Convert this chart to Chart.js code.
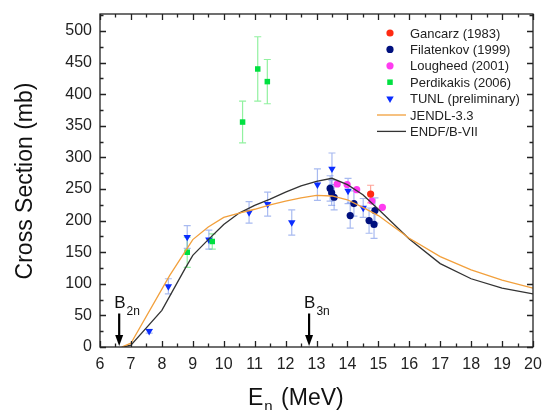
<!DOCTYPE html>
<html>
<head>
<meta charset="utf-8">
<script src="https://cdn.jsdelivr.net/npm/chart.js@4.4.1/dist/chart.umd.min.js"></script>
<style>
  html, body { margin: 0; padding: 0; background: #fff; }
  #wrap { width: 542px; height: 410px; }
</style>
</head>
<body>
<div id="wrap"><canvas id="xsChart" width="542" height="410"></canvas></div>
<script>
// axis ticks
const xTicks = [6, 7, 8, 9, 10, 11, 12, 13, 14, 15, 16, 17, 18, 19, 20]
const yTicks = [0, 50, 100, 150, 200, 250, 300, 350, 400, 450, 500]

// measured data (E in MeV, cross section in mb)
const gancarzE = [14.75]
const gancarzXS = [242]
const gancarzErr = [14]

const filatenkovE = [13.44, 13.49, 13.57, 14.09, 14.21, 14.70, 14.86, 14.89]
const filatenkovXS = [251, 244, 237, 208, 227, 200, 194, 216]
const filatenkovErr = [20, 20, 20, 20, 20, 20, 22, 20]

const lougheedE = [13.67, 13.99, 14.30, 14.79, 15.13]
const lougheedXS = [258, 257, 249, 231, 221]

const perdikakisE = [8.82, 9.63, 10.61, 11.10, 11.41]
const perdikakisXS = [150, 167, 356, 440, 420]
const perdikakisErr = [24, 12, 33, 51, 35]

const tunlE = [7.59, 8.21, 8.82, 9.52, 10.82, 11.42, 12.20, 13.03, 13.50, 14.02, 14.51]
const tunlXS = [25, 96, 174, 170, 213, 226, 197, 257, 282, 247, 220]
const tunlErr = [3, 12, 18, 15, 17, 19, 20, 25, 25, 20, 15]

// evaluations
const jendlE = [6.70, 7.00, 8.25, 9.00, 9.50, 10.0, 10.5, 11.0, 11.5, 12.0, 12.5, 13.0, 13.5, 14.0, 14.5, 15.0, 16.0, 17.0, 18.0, 19.0, 20.0]
const jendlXS = [0, 6, 113, 170, 190, 205, 212, 218, 225, 231, 236, 240, 239, 233, 221, 208, 172, 143, 122, 106, 93]

const endfE = [6.75, 7.00, 8.00, 8.75, 9.00, 9.50, 10.0, 10.5, 11.0, 11.5, 12.0, 12.5, 13.0, 13.5, 14.0, 14.5, 15.0, 16.0, 17.0, 18.0, 19.0, 20.0]
const endfXS = [0, 3, 58, 124, 145, 170, 194, 212, 224, 234, 245, 255, 262, 267, 257, 241, 218, 171, 132, 108, 93, 84]

// thresholds
const thresholdE = [6.62, 12.76]
const thresholdSub = ['2n', '3n']
const arrowTopXS = 53

const FONT = "'Liberation Sans', Arial, sans-serif"
Chart.defaults.font.family = FONT
Chart.defaults.color = '#222'

const pts = (xs, ys) => xs.map((v, i) => ({ x: v, y: ys[i] }))

const errorBars = {
  id: 'errorBars',
  beforeDatasetsDraw (chart) {
    const { ctx, scales: { x, y } } = chart
    ctx.save()
    ctx.lineWidth = 1.2
    chart.data.datasets.forEach((ds) => {
      if (!ds.errors) return
      ctx.strokeStyle = ds.errorColor
      ds.data.forEach((p, i) => {
        const err = ds.errors[i]
        const px = x.getPixelForValue(p.x)
        const y1 = y.getPixelForValue(p.y + err)
        const y2 = y.getPixelForValue(p.y - err)
        ctx.beginPath()
        ctx.moveTo(px, y1); ctx.lineTo(px, y2)
        ctx.moveTo(px - 3.5, y1); ctx.lineTo(px + 3.5, y1)
        ctx.moveTo(px - 3.5, y2); ctx.lineTo(px + 3.5, y2)
        ctx.stroke()
      })
    })
    ctx.restore()
  }
}

const frameAndTicks = {
  id: 'frameAndTicks',
  afterDraw (chart) {
    const { ctx, chartArea: a, scales: { x, y } } = chart
    ctx.save()
    ctx.strokeStyle = '#222'
    ctx.lineWidth = 1.3
    ctx.strokeRect(a.left, a.top, a.right - a.left, a.bottom - a.top)
    ctx.beginPath()
    for (let v = xTicks[0]; v <= xTicks[xTicks.length - 1] + 1e-9; v += 0.5) {
      const px = Math.round(x.getPixelForValue(v)) + 0.5
      const len = Number.isInteger(v) ? 6 : 3.5
      ctx.moveTo(px, a.bottom); ctx.lineTo(px, a.bottom - len)
      ctx.moveTo(px, a.top); ctx.lineTo(px, a.top + len)
    }
    for (let v = yTicks[0]; v <= y.max; v += 25) {
      const py = Math.round(y.getPixelForValue(v)) + 0.5
      const len = v % 50 === 0 ? 6 : 3.5
      ctx.moveTo(a.left, py); ctx.lineTo(a.left + len, py)
      ctx.moveTo(a.right, py); ctx.lineTo(a.right - len, py)
    }
    ctx.stroke()

    // axis titles
    ctx.fillStyle = '#111'
    ctx.font = '23px ' + FONT
    ctx.textBaseline = 'alphabetic'
    ctx.textAlign = 'left'
    let tx = 248
    ctx.fillText('E', tx, 405)
    tx += ctx.measureText('E').width + 1
    ctx.font = '15px ' + FONT
    ctx.fillText('n', tx, 411)
    tx += ctx.measureText('n').width + 2
    ctx.font = '23px ' + FONT
    ctx.fillText(' (MeV)', tx, 405)

    ctx.translate(26, 181)
    ctx.rotate(-Math.PI / 2)
    ctx.textAlign = 'center'
    ctx.textBaseline = 'middle'
    ctx.fillText('Cross Section (mb)', 0, 0)
    ctx.restore()
  }
}

const thresholdArrows = {
  id: 'thresholdArrows',
  afterDatasetsDraw (chart) {
    const { ctx, scales: { x, y } } = chart
    ctx.save()
    thresholdE.forEach((e, i) => {
      const px = x.getPixelForValue(e)
      const top = y.getPixelForValue(arrowTopXS)
      const tip = y.getPixelForValue(0) - 1
      ctx.strokeStyle = '#000'
      ctx.fillStyle = '#000'
      ctx.lineWidth = 2.2
      ctx.beginPath()
      ctx.moveTo(px, top); ctx.lineTo(px, tip - 8)
      ctx.stroke()
      ctx.beginPath()
      ctx.moveTo(px - 4, tip - 11); ctx.lineTo(px + 4, tip - 11); ctx.lineTo(px, tip)
      ctx.closePath()
      ctx.fill()
      ctx.fillStyle = '#111'
      ctx.textAlign = 'left'
      ctx.textBaseline = 'alphabetic'
      ctx.font = '17px ' + FONT
      const bx = px - 5
      ctx.fillText('B', bx, top - 6)
      const w = ctx.measureText('B').width
      ctx.font = '12px ' + FONT
      ctx.fillText(thresholdSub[i], bx + w + 1, top + 1)
    })
    ctx.restore()
  }
}

const boxLegend = {
  id: 'boxLegend',
  afterDraw (chart) {
    const { ctx } = chart
    ctx.save()
    ctx.font = '13px ' + FONT
    ctx.textBaseline = 'middle'
    ctx.textAlign = 'left'
    let ly = 33
    chart.data.datasets.forEach((ds) => {
      if (ds.type === 'line') {
        ctx.strokeStyle = ds.borderColor
        ctx.lineWidth = 1.3
        ctx.beginPath()
        ctx.moveTo(377, ly); ctx.lineTo(406, ly)
        ctx.stroke()
      } else {
        ctx.fillStyle = ds.pointBackgroundColor
        Chart.helpers.drawPoint(ctx, {
          pointStyle: ds.pointStyle,
          radius: ds.pointRadius,
          rotation: ds.pointRotation || 0,
          borderWidth: 0
        }, 390, ly)
      }
      ctx.fillStyle = '#222'
      ctx.fillText(ds.label, 410, ly + 1)
      ly += 16.4
    })
    ctx.restore()
  }
}

new Chart(document.getElementById('xsChart'), {
  data: {
    datasets: [
      {
        type: 'scatter', label: 'Gancarz (1983)', data: pts(gancarzE, gancarzXS),
        errors: gancarzErr, errorColor: 'rgba(255,90,70,0.55)',
        pointStyle: 'circle', pointRadius: 3.6, pointBackgroundColor: '#ff2a12', pointBorderWidth: 0, order: 1
      },
      {
        type: 'scatter', label: 'Filatenkov (1999)', data: pts(filatenkovE, filatenkovXS),
        errors: filatenkovErr, errorColor: 'rgba(110,140,230,0.6)',
        pointStyle: 'circle', pointRadius: 3.6, pointBackgroundColor: '#00107e', pointBorderWidth: 0, order: 1
      },
      {
        type: 'scatter', label: 'Lougheed (2001)', data: pts(lougheedE, lougheedXS),
        pointStyle: 'circle', pointRadius: 3.6, pointBackgroundColor: '#ff3cf0', pointBorderWidth: 0, order: 1
      },
      {
        type: 'scatter', label: 'Perdikakis (2006)', data: pts(perdikakisE, perdikakisXS),
        errors: perdikakisErr, errorColor: 'rgba(100,235,120,0.7)',
        pointStyle: 'rect', pointRadius: 3.9, pointBackgroundColor: '#00e040', pointBorderWidth: 0, order: 1
      },
      {
        type: 'scatter', label: 'TUNL (preliminary)', data: pts(tunlE, tunlXS),
        errors: tunlErr, errorColor: 'rgba(110,140,230,0.6)',
        pointStyle: 'triangle', pointRotation: 180, pointRadius: 4.3, pointBackgroundColor: '#0a2cff', pointBorderWidth: 0, order: 1
      },
      {
        type: 'line', label: 'JENDL-3.3', data: pts(jendlE, jendlXS),
        borderColor: '#f2a03c', borderWidth: 1.3, pointRadius: 0, tension: 0, fill: false, order: 0
      },
      {
        type: 'line', label: 'ENDF/B-VII', data: pts(endfE, endfXS),
        borderColor: '#333333', borderWidth: 1.3, pointRadius: 0, tension: 0, fill: false, order: 0
      }
    ]
  },
  options: {
    responsive: false,
    animation: false,
    layout: { padding: { left: 0, top: 14, right: 9, bottom: 0 } },
    plugins: {
      legend: { display: false },
      tooltip: { enabled: false }
    },
    scales: {
      x: {
        type: 'linear',
        min: 6,
        max: 20,
        afterBuildTicks: (scale) => { scale.ticks = xTicks.map(v => ({ value: v })) },
        afterFit: (scale) => {
          scale.height = 63
          scale.paddingLeft = 0
          scale.paddingRight = 0
        },
        grid: { display: false, drawTicks: false },
        border: { display: false },
        ticks: { padding: 8, font: { size: 16 }, color: '#222', maxRotation: 0, autoSkip: false }
      },
      y: {
        type: 'linear',
        min: 0,
        max: 527,
        afterBuildTicks: (scale) => { scale.ticks = yTicks.map(v => ({ value: v })) },
        afterFit: (scale) => {
          scale.width = 100
          scale.paddingTop = 0
          scale.paddingBottom = 0
        },
        grid: { display: false, drawTicks: false },
        border: { display: false },
        ticks: { padding: 8, font: { size: 16 }, color: '#222' }
      }
    }
  },
  plugins: [errorBars, thresholdArrows, frameAndTicks, boxLegend]
})
</script>
</body>
</html>
